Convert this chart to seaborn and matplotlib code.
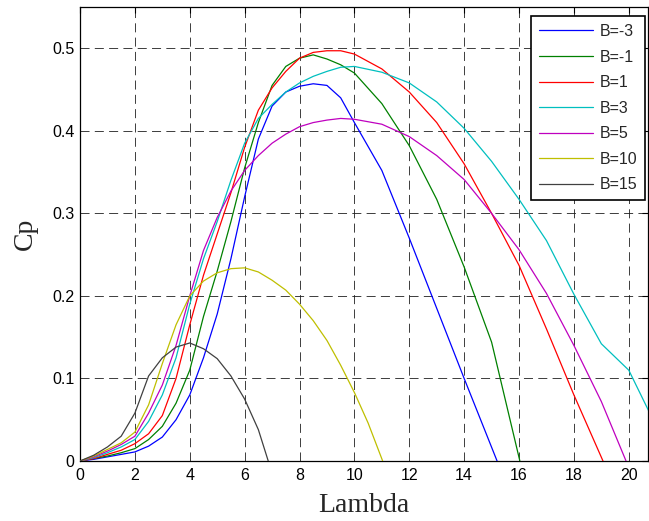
import numpy as np
import pandas as pd
import matplotlib
matplotlib.use("Agg")
import matplotlib.pyplot as plt
import seaborn as sns

# Power coefficient Cp versus tip speed ratio for several pitch angles B
lam_m3 = [0, 0.5, 1, 1.5, 2, 2.5, 3, 3.5, 4, 4.5, 5, 5.5, 6, 6.5, 7, 7.5, 8, 8.5, 9, 9.5, 10, 11, 12, 13, 14, 15.2]
cp_m3 = [0, 0.002, 0.005, 0.008, 0.011, 0.018, 0.029, 0.05, 0.08, 0.125, 0.178, 0.245, 0.32, 0.39, 0.43, 0.447, 0.454, 0.457, 0.455, 0.44, 0.41, 0.352, 0.27, 0.185, 0.10, 0.0]

lam_m1 = [0, 0.5, 1, 1.5, 2, 2.5, 3, 3.5, 4, 4.5, 5, 5.5, 6, 6.5, 7, 7.5, 8, 8.5, 9, 9.5, 10, 11, 12, 13, 14, 15, 16.03]
cp_m1 = [0, 0.003, 0.006, 0.01, 0.015, 0.026, 0.042, 0.07, 0.11, 0.175, 0.23, 0.29, 0.355, 0.41, 0.455, 0.478, 0.488, 0.492, 0.487, 0.48, 0.47, 0.433, 0.382, 0.317, 0.235, 0.144, 0.0]

lam_1 = [0, 0.5, 1, 1.5, 2, 2.5, 3, 3.5, 4, 4.5, 5, 5.5, 6, 6.5, 7, 7.5, 8, 8.5, 9, 9.5, 10, 11, 12, 13, 14, 15, 16, 17, 18, 19.06]
cp_1 = [0, 0.003, 0.008, 0.013, 0.021, 0.033, 0.055, 0.1, 0.165, 0.225, 0.275, 0.325, 0.38, 0.425, 0.452, 0.472, 0.488, 0.495, 0.497, 0.497, 0.493, 0.475, 0.447, 0.41, 0.36, 0.30, 0.237, 0.16, 0.08, 0.0]

lam_3 = [0, 0.5, 1, 1.5, 2, 2.5, 3, 3.5, 4, 4.5, 5, 5.5, 6, 6.5, 7, 7.5, 8, 8.5, 9, 9.5, 10, 11, 12, 13, 14, 15, 16, 17, 18, 19, 20, 21]
cp_3 = [0, 0.004, 0.01, 0.017, 0.026, 0.048, 0.08, 0.125, 0.19, 0.245, 0.29, 0.34, 0.385, 0.415, 0.432, 0.447, 0.458, 0.466, 0.472, 0.477, 0.478, 0.471, 0.458, 0.435, 0.403, 0.363, 0.317, 0.267, 0.202, 0.142, 0.11, 0.042]

lam_5 = [0, 0.5, 1, 1.5, 2, 2.5, 3, 3.5, 4, 4.5, 5, 5.5, 6, 6.5, 7, 7.5, 8, 8.5, 9, 9.5, 10, 11, 12, 13, 14, 15, 16, 17, 18, 19, 19.9]
cp_5 = [0, 0.005, 0.012, 0.02, 0.03, 0.058, 0.092, 0.14, 0.2, 0.255, 0.295, 0.327, 0.352, 0.37, 0.385, 0.396, 0.405, 0.41, 0.413, 0.415, 0.414, 0.408, 0.393, 0.37, 0.341, 0.30, 0.256, 0.203, 0.14, 0.072, 0.0]

lam_10 = [0, 0.5, 1, 1.5, 2, 2.5, 3, 3.5, 4, 4.5, 5, 5.5, 6, 6.5, 7, 7.5, 8, 8.5, 9, 9.5, 10, 10.5, 11.03]
cp_10 = [0, 0.006, 0.014, 0.022, 0.035, 0.068, 0.118, 0.165, 0.2, 0.218, 0.228, 0.233, 0.234, 0.229, 0.219, 0.207, 0.19, 0.17, 0.146, 0.116, 0.083, 0.046, 0.0]

lam_15 = [0, 0.5, 1, 1.5, 2, 2.5, 3, 3.5, 4, 4.5, 5, 5.5, 6, 6.5, 6.86]
cp_15 = [0, 0.007, 0.017, 0.03, 0.058, 0.103, 0.125, 0.138, 0.143, 0.136, 0.124, 0.103, 0.075, 0.038, 0.0]

labels = ["B=-3", "B=-1", "B=1", "B=3", "B=5", "B=10", "B=15"]
colors = ["#0000ff", "#008000", "#ff0000", "#00bfbf", "#bf00bf", "#bfbf00", "#404040"]

series = [(lam_m3, cp_m3), (lam_m1, cp_m1), (lam_1, cp_1), (lam_3, cp_3),
          (lam_5, cp_5), (lam_10, cp_10), (lam_15, cp_15)]
frames = []
for lab, (lx, cy) in zip(labels, series):
    frames.append(pd.DataFrame({"Lambda": lx, "Cp": cy, "B": lab}))
df = pd.concat(frames, ignore_index=True)

sns.set_style("white")
plt.rcParams["font.family"] = ["Liberation Sans", "DejaVu Sans"]
plt.rcParams["lines.scale_dashes"] = False

fig = plt.figure(figsize=(6.49, 5.21), dpi=100)
ax = fig.add_axes([80 / 649, 60 / 521, 568 / 649, 454 / 521])

sns.lineplot(data=df, x="Lambda", y="Cp", hue="B", hue_order=labels,
             palette=dict(zip(labels, colors)), estimator=None, sort=False,
             units="B", linewidth=0.9, ax=ax, zorder=3)

ax.set_xlim(0, 20.7)
ax.set_ylim(0, 0.55)
ax.set_xticks(np.arange(0, 21, 2))
ax.set_yticks([0, 0.1, 0.2, 0.3, 0.4, 0.5])
ax.set_yticklabels(["0", "0.1", "0.2", "0.3", "0.4", "0.5"])
ax.tick_params(direction="in", length=4, width=0.8, labelsize=11.5,
               top=True, right=True, colors="black")
ax.tick_params(axis="x", pad=5)
ax.tick_params(axis="y", pad=4)

ax.grid(True, color="#1a1a1a", linestyle=(0, (6.5, 3.8)), linewidth=0.7, alpha=0.85)
ax.set_axisbelow(True)
for sp in ax.spines.values():
    sp.set_color("black")
    sp.set_linewidth(0.9)

ax.set_xlabel("Lambda", fontsize=20, family=["Liberation Serif"], labelpad=7)
ax.set_ylabel("Cp", fontsize=20, family=["Liberation Serif"], labelpad=10)

handles, labs = ax.get_legend_handles_labels()
leg = ax.legend(handles, labs, loc="upper right", bbox_to_anchor=(0.9947, 0.980),
                fontsize=11.5, frameon=True, fancybox=False, framealpha=1,
                edgecolor="black", handlelength=3.4, handletextpad=0.4,
                labelspacing=0.66, borderpad=0.5, borderaxespad=0.0)
leg.get_frame().set_linewidth(1.2)

fig.savefig("out.png", dpi=100)
